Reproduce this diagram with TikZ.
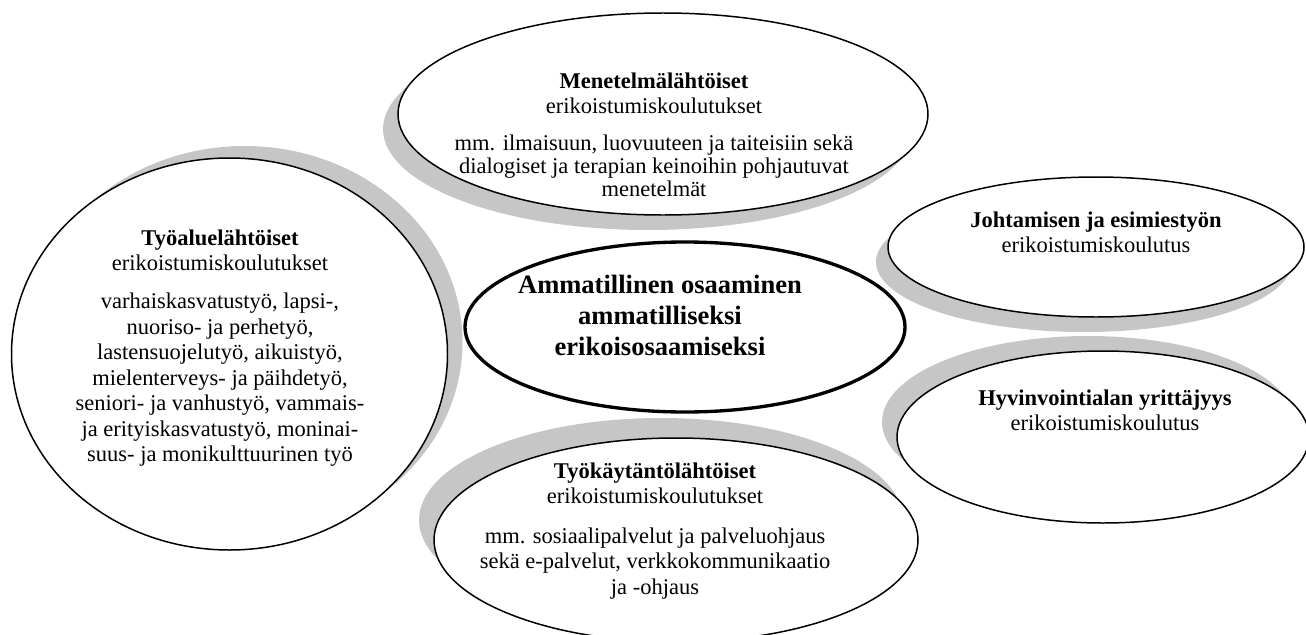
\documentclass[tikz,border=0pt]{standalone}
\usepackage{fontspec}
\setmainfont{Liberation Serif}
\usetikzlibrary{shapes.geometric,shadows}

\begin{document}
\begin{tikzpicture}[
    bubble/.style={
      ellipse,
      draw=black,
      line width=0.85pt,
      fill=white,
      inner sep=0pt
    },
    core/.style={
      ellipse,
      draw=black,
      line width=1.9pt,
      fill=white,
      inner sep=0pt
    },
    shadowed/.style 2 args={
      drop shadow={shadow xshift=#1, shadow yshift=#2, fill=gray!45, opacity=1}
    },
    txt/.style={
      anchor=north,
      align=center,
      inner sep=0pt,
      font=\fontsize{12.8}{14.5}\selectfont
    }
]

\useasboundingbox (0,0) rectangle (26.12,-12.7);

%% Ellipses
\node [bubble, shadowed={0.3cm}{0.24cm}, minimum width=8.72cm, minimum height=7.84cm] (tyoalue) at (4.59,-7.08) {};
\node [bubble, shadowed={-0.3cm}{-0.3cm}, minimum width=10.60cm, minimum height=4.04cm] (menetelma) at (13.26,-2.28) {};
\node [bubble, shadowed={-0.24cm}{-0.30cm}, minimum width=8.32cm, minimum height=2.80cm] (johto) at (21.92,-4.94) {};
\node [bubble, shadowed={-0.30cm}{0.30cm}, minimum width=8.24cm, minimum height=3.44cm] (yrittajyys) at (22.06,-8.74) {};
\node [bubble, shadowed={-0.30cm}{0.40cm}, minimum width=9.68cm, minimum height=4.08cm] (tyokaytanto) at (13.52,-10.80) {};
\node [core, minimum width=8.80cm, minimum height=3.40cm] (osaaminen) at (13.70,-6.54) {};

%% Texts
\node [txt] (tyoalueTxt) at (4.40,-4.59) {\textbf{Työaluelähtöiset}\\
erikoistumiskoulutukset\\[7.1pt]
varhaiskasvatustyö, lapsi-,\\
nuoriso- ja perhetyö,\\
lastensuojelutyö, aikuistyö,\\
mielenterveys- ja päihdetyö,\\
seniori- ja vanhustyö, vammais-\\
ja erityiskasvatustyö, moninai-\\
suus- ja monikulttuurinen työ};

\node [txt, font=\fontsize{12.8}{13.2}\selectfont] (menetelmaTxt) at (13.08,-1.45) {\textbf{Menetelmälähtöiset}\\[1pt]
erikoistumiskoulutukset\\[7.9pt]
mm. ilmaisuun, luovuuteen ja taiteisiin sekä\\
dialogiset ja terapian keinoihin pohjautuvat\\
menetelmät};

\node [txt] (johtoTxt) at (21.92,-4.23) {\textbf{Johtamisen ja esimiestyön}\\
erikoistumiskoulutus};

\node [txt] (yrittajyysTxt) at (22.10,-7.79) {\textbf{Hyvinvointialan yrittäjyys}\\
erikoistumiskoulutus};

\node [txt] (tyokaytantoTxt) at (13.10,-9.25) {\textbf{Työkäytäntölähtöiset}\\
erikoistumiskoulutukset\\[8pt]
mm. sosiaalipalvelut ja palveluohjaus\\
sekä e-palvelut, verkkokommunikaatio\\
ja -ohjaus};

\node [txt, font=\fontsize{15.1}{17.6}\selectfont\bfseries] (osaaminenTxt) at (13.20,-5.50) {Ammatillinen osaaminen\\
ammatilliseksi\\
erikoisosaamiseksi};

\end{tikzpicture}
\end{document}
